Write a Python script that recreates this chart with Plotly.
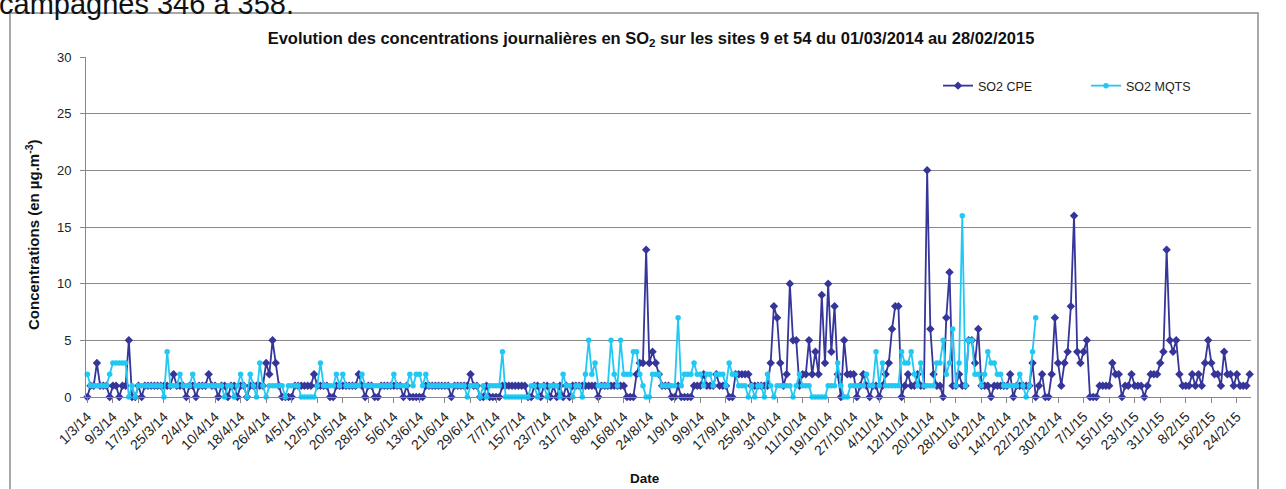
import plotly.graph_objects as go
import pandas as pd

# ---- data -------------------------------------------------------------
start_date = "2014-03-01"
end_date = "2015-02-28"
dates = pd.date_range(start_date, end_date, freq="D")

series_names = ["SO2 CPE", "SO2 MQTS"]

so2_cpe = [
    0, 1, 1, 3, 1, 1, 1, 0, 1, 1,
    0, 1, 1, 5, 0, 0, 1, 0, 1, 1,
    1, 1, 1, 1, 1, 1, 1, 2, 1, 1,
    1, 0, 1, 1, 0, 1, 1, 1, 2, 1,
    1, 0, 1, 1, 0, 1, 1, 0, 1, 1,
    0, 1, 1, 1, 1, 1, 3, 2, 5, 3,
    1, 0, 0, 0, 0, 1, 1, 1, 1, 1,
    1, 2, 1, 1, 1, 1, 0, 0, 1, 1,
    1, 1, 1, 1, 1, 2, 1, 0, 1, 1,
    0, 0, 1, 1, 1, 1, 1, 1, 1, 0,
    1, 0, 0, 0, 0, 0, 1, 1, 1, 1,
    1, 1, 1, 1, 0, 1, 1, 1, 1, 1,
    2, 1, 1, 0, 0, 1, 0, 0, 0, 0,
    1, 1, 1, 1, 1, 1, 1, 1, 0, 0,
    1, 1, 0, 1, 1, 0, 1, 0, 1, 0,
    1, 0, 1, 1, 1, 1, 1, 1, 1, 1,
    0, 1, 1, 1, 1, 1, 1, 1, 1, 0,
    0, 0, 2, 3, 3, 13, 3, 4, 3, 2,
    1, 1, 1, 0, 0, 1, 0, 0, 0, 0,
    1, 1, 1, 2, 1, 1, 1, 2, 1, 1,
    1, 0, 0, 2, 2, 2, 2, 2, 1, 1,
    1, 1, 1, 1, 3, 8, 7, 3, 1, 2,
    10, 5, 5, 1, 2, 2, 5, 2, 4, 2,
    9, 3, 10, 4, 8, 2, 0, 5, 2, 2,
    2, 0, 1, 2, 1, 0, 1, 1, 0, 1,
    2, 3, 6, 8, 8, 0, 1, 2, 1, 1,
    2, 1, 1, 20, 6, 2, 1, 1, 0, 7,
    11, 1, 1, 2, 1, 1, 5, 5, 3, 6,
    1, 1, 1, 0, 1, 1, 1, 1, 1, 2,
    0, 1, 1, 1, 1, 1, 3, 0, 1, 2,
    0, 0, 2, 7, 3, 1, 3, 4, 8, 16,
    4, 3, 4, 5, 0, 0, 0, 1, 1, 1,
    1, 3, 2, 2, 0, 1, 1, 2, 1, 1,
    1, 0, 1, 2, 2, 2, 3, 4, 13, 5,
    4, 5, 2, 1, 1, 1, 2, 1, 2, 1,
    3, 5, 3, 2, 2, 1, 4, 2, 2, 1,
    2, 1, 1, 1, 2,
]

so2_mqts = [
    2, 1, 1, 1, 1, 1, 1, 2, 3, 3,
    3, 3, 3, 0, 1, 0, 1, 1, 1, 1,
    1, 1, 1, 1, 0, 4, 1, 1, 1, 2,
    1, 1, 1, 2, 1, 1, 1, 1, 1, 1,
    1, 1, 1, 0, 1, 1, 0, 1, 2, 1,
    0, 2, 1, 0, 3, 1, 0, 1, 1, 1,
    1, 1, 0, 1, 1, 1, 1, 0, 0, 0,
    0, 0, 1, 3, 1, 1, 1, 1, 2, 1,
    2, 1, 1, 1, 1, 1, 2, 1, 1, 1,
    1, 1, 1, 1, 1, 1, 2, 1, 1, 1,
    1, 2, 1, 2, 2, 1, 2, 1, 1, 1,
    1, 1, 1, 1, 1, 1, 1, 1, 1, 0,
    1, 1, 1, 0, 1, 0, 1, 1, 1, 1,
    4, 0, 0, 0, 0, 0, 0, 0, 0, 1,
    1, 0, 1, 1, 0, 1, 1, 1, 0, 2,
    1, 1, 0, 1, 1, 0, 2, 5, 2, 3,
    1, 1, 1, 1, 5, 2, 1, 5, 2, 2,
    2, 4, 4, 2, 1, 0, 0, 2, 2, 2,
    1, 1, 1, 1, 1, 7, 1, 2, 2, 2,
    3, 2, 2, 1, 2, 2, 1, 2, 2, 2,
    1, 3, 2, 2, 1, 1, 1, 0, 1, 0,
    1, 1, 0, 2, 1, 0, 1, 1, 1, 1,
    1, 0, 1, 2, 1, 1, 1, 0, 0, 0,
    0, 0, 1, 1, 1, 3, 1, 0, 0, 1,
    1, 1, 1, 1, 2, 1, 1, 4, 1, 3,
    1, 1, 1, 1, 1, 4, 3, 3, 4, 2,
    1, 3, 1, 1, 1, 1, 3, 3, 5, 2,
    3, 6, 1, 3, 16, 1, 5, 5, 2, 2,
    1, 2, 4, 3, 3, 2, 2, 1, 1, 1,
    1, 1, 2, 1, 0, 1, 4, 7,
]
so2_mqts = so2_mqts + [None] * (len(dates) - len(so2_mqts))

tick_dates = list(dates[::8])
tick_labels = [f"{d.day}/{d.month}/{d.strftime('%y')}" for d in tick_dates]

y_ticks = [0, 5, 10, 15, 20, 25, 30]

title_text = ("<b>Evolution des concentrations journalières en SO<sub>2</sub> "
              "sur les sites 9 et 54 du 01/03/2014 au 28/02/2015</b>")
y_title = "<b>Concentrations (en µg.m<sup>-3</sup>)</b>"
x_title = "<b>Date</b>"
top_text = "campagnes 346 à 358."

# ---- figure -----------------------------------------------------------
FONT = "Liberation Sans"
W, H = 1286, 489
ML, MR, MT, MB = 86, 35, 57, 92
PW, PH = W - ML - MR, H - MT - MB


def px_to_paper_x(px):
    return (px - ML) / PW


def px_to_paper_y(py):
    return (H - MB - py) / PH


fig = go.Figure()
fig.add_trace(go.Scatter(
    x=dates, y=so2_cpe, name=series_names[0], mode="lines+markers",
    line=dict(color="#35359A", width=1.8),
    marker=dict(symbol="diamond", size=6.5, color="#35359A"),
    cliponaxis=False,
))
fig.add_trace(go.Scatter(
    x=dates, y=so2_mqts, name=series_names[1], mode="lines+markers",
    line=dict(color="#22C8F4", width=1.8),
    marker=dict(symbol="circle", size=5.5, color="#22C8F4"),
    cliponaxis=False, connectgaps=False,
))

half_day = pd.Timedelta(hours=10)
fig.update_xaxes(
    range=[dates[0] - half_day, dates[-1] + half_day],
    tickmode="array", tickvals=tick_dates, ticktext=tick_labels,
    tickangle=-45, tickfont=dict(family=FONT, size=14, color="#222"),
    ticks="outside", ticklen=5, tickcolor="#888",
    showline=True, linecolor="#888", linewidth=1,
    showgrid=False, zeroline=False, automargin=False,
)
fig.update_yaxes(
    range=[0, 30], tickmode="array", tickvals=y_ticks,
    tickfont=dict(family=FONT, size=13, color="#222"),
    ticks="outside", ticklen=5, tickcolor="#888", ticklabelstandoff=6,
    showline=True, linecolor="#888", linewidth=1,
    showgrid=True, gridcolor="#8a8a8a", gridwidth=1, zeroline=False,
    automargin=False,
)

fig.update_layout(
    width=W, height=H,
    margin=dict(l=ML, r=MR, t=MT, b=MB, autoexpand=False),
    paper_bgcolor="white", plot_bgcolor="white",
    title=dict(text=title_text, x=651 / W, xanchor="center",
               y=1 - 38 / H, yanchor="middle",
               font=dict(family=FONT, size=16.5, color="#111")),
    showlegend=True,
    legend=dict(orientation="h", x=px_to_paper_x(938), y=px_to_paper_y(86),
                xanchor="left", yanchor="middle",
                entrywidth=103, entrywidthmode="pixels",
                font=dict(family=FONT, size=12.5, color="#222"),
                bgcolor="rgba(0,0,0,0)"),
    annotations=[
        dict(text=y_title, xref="paper", yref="paper",
             x=px_to_paper_x(32), y=px_to_paper_y(235), textangle=-90,
             xanchor="center", yanchor="middle", showarrow=False,
             font=dict(family=FONT, size=15, color="#111")),
        dict(text=x_title, xref="paper", yref="paper",
             x=px_to_paper_x(645), y=px_to_paper_y(478),
             xanchor="center", yanchor="middle", showarrow=False,
             font=dict(family=FONT, size=13.5, color="#111")),
        dict(text=top_text, xref="paper", yref="paper",
             x=px_to_paper_x(-3), y=px_to_paper_y(22),
             xanchor="left", yanchor="bottom", showarrow=False,
             font=dict(family=FONT, size=29, color="#111")),
    ],
    shapes=[
        dict(type="rect", xref="paper", yref="paper", layer="below",
             x0=px_to_paper_x(10), x1=px_to_paper_x(1258),
             y0=px_to_paper_y(500), y1=px_to_paper_y(13),
             line=dict(color="#8c8c8c", width=1.5), fillcolor="rgba(0,0,0,0)"),
    ],
)

fig.write_html(
    "out.html",
    config={"displayModeBar": False},
    post_script="document.body.style.margin='0';document.body.style.padding='0';"
                "document.documentElement.style.overflow='hidden';",
)
